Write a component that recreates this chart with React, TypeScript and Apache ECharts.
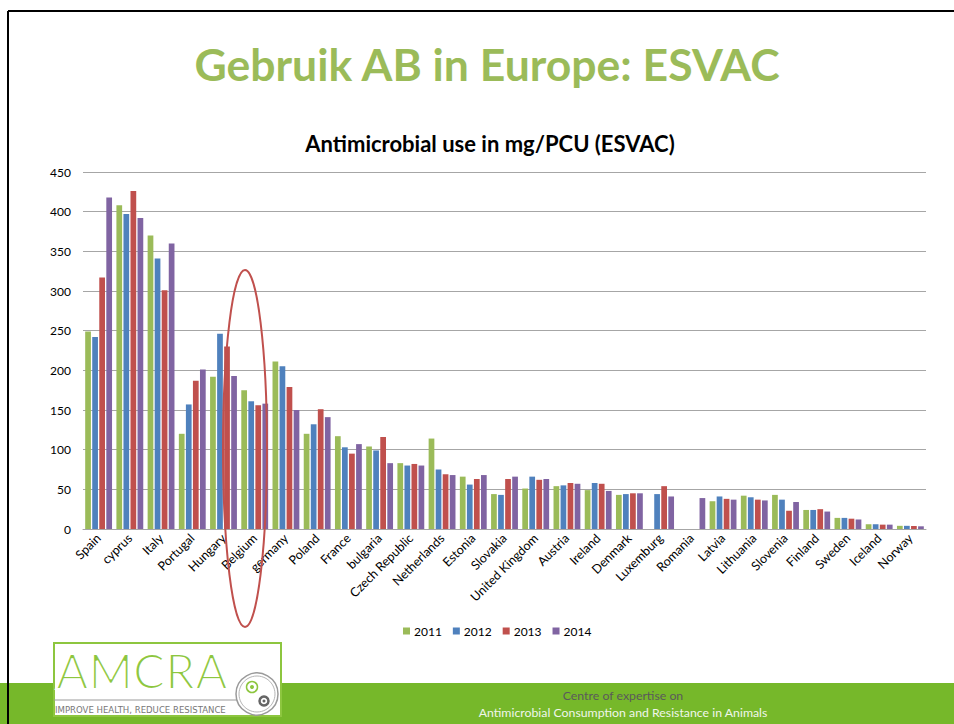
import React, { useEffect, useRef } from "react";
import * as echarts from "echarts";

const countries = [
  "Spain", "cyprus", "Italy", "Portugal", "Hungary", "Belgium", "germany", "Poland", "France",
  "bulgaria", "Czech Republic", "Netherlands", "Estonia", "Slovakia", "United Kingdom", "Austria",
  "Ireland", "Denmark", "Luxemburg", "Romania", "Latvia", "Lithuania", "Slovenia", "Finland",
  "Sweden", "Iceland", "Norway",
];
const years = ["2011", "2012", "2013", "2014"];
const v2011 = [249, 408, 370, 120, 192, 175, 211, 120, 117, 104, 83, 114, 66, 44, 51, 54, 49, 43, null, null, 35, 42, 43, 24, 14, 6, 4];
const v2012 = [242, 397, 341, 157, 246, 161, 205, 132, 103, 99, 80, 75, 56, 43, 66, 55, 58, 44, 44, null, 41, 40, 37, 24, 14, 6, 4];
const v2013 = [317, 426, 301, 187, 230, 156, 179, 151, 95, 116, 82, 69, 63, 63, 62, 58, 57, 45, 54, null, 38, 37, 23, 25, 13, 5.5, 3.8];
const v2014 = [418, 392, 360, 201, 193, 158, 150, 141, 107, 83, 80, 68, 68, 66, 63, 57, 48, 45, 41, 39, 37, 36, 34, 22, 12, 5.5, 3.4];
const seriesValues = [v2011, v2012, v2013, v2014];
const colors = ["#9BBB59", "#4F81BD", "#C0504D", "#8064A2"];
const yTicks = { min: 0, max: 450, interval: 50 };

const FONT = "Lato, 'Open Sans', sans-serif";

export default function App() {
  const ref = useRef<HTMLDivElement>(null);
  useEffect(() => {
    if (!ref.current) return;
    const chart = echarts.init(ref.current, null, { renderer: "svg" });
    const logoText = { text: "AMCRA", fontSize: 48, fontFamily: FONT, align: "left", verticalAlign: "middle" };
    chart.setOption({
      animation: false,
      backgroundColor: "#ffffff",
      color: colors,
      textStyle: { fontFamily: FONT },
      grid: { left: 83, right: 28, top: 172, bottom: 195, containLabel: false },
      legend: {
        data: years,
        left: 398,
        top: 620,
        icon: "rect",
        itemWidth: 7,
        itemHeight: 7,
        itemGap: 11,
        textStyle: { fontSize: 12, color: "#000", fontFamily: FONT, padding: [0, 0, 0, -1] },
      },
      xAxis: {
        type: "category",
        data: countries,
        axisLine: { lineStyle: { color: "#A6A6A6", width: 1 } },
        axisTick: { show: false },
        axisLabel: { rotate: 45, interval: 0, fontSize: 12.5, color: "#000", margin: 7, fontFamily: FONT },
      },
      yAxis: {
        type: "value",
        min: yTicks.min,
        max: yTicks.max,
        interval: yTicks.interval,
        axisLine: { show: false },
        axisTick: { show: false },
        splitLine: { lineStyle: { color: "#A6A6A6", width: 1 } },
        axisLabel: { fontSize: 12, color: "#000", margin: 12, fontFamily: FONT },
      },
      series: years.map((y, i) => ({
        name: y,
        type: "bar",
        data: seriesValues[i],
        barGap: "23%",
        barCategoryGap: "14%",
        itemStyle: { color: colors[i] },
      })),
      graphic: [
        { type: "line", shape: { x1: 8, y1: 11, x2: 954, y2: 11 }, style: { stroke: "#000", lineWidth: 2 }, z: 10 },
        {
          type: "text", x: 487, y: 63,
          style: { text: "Gebruik AB in Europe: ESVAC", fontSize: 44.5, fontWeight: "bold", fontFamily: FONT, fill: "#9BBB59", align: "center", verticalAlign: "middle" },
        },
        {
          type: "text", x: 490, y: 143,
          style: { text: "Antimicrobial use in mg/PCU (ESVAC)", fontSize: 22, fontWeight: "bold", fontFamily: FONT, fill: "#000", align: "center", verticalAlign: "middle" },
        },
        {
          type: "ellipse", shape: { cx: 245, cy: 448.5, rx: 22, ry: 178.5 },
          style: { fill: "none", stroke: "#C0504D", lineWidth: 2 }, z: 20,
        },
        { type: "rect", shape: { x: 0, y: 683, width: 954, height: 41 }, style: { fill: "#76B82A" }, z: 5 },
        {
          type: "text", x: 623, y: 695, z: 6,
          style: { text: "Centre of expertise on", fontSize: 12.3, fontFamily: FONT, fill: "#5A5A5A", align: "center", verticalAlign: "middle" },
        },
        {
          type: "text", x: 623, y: 712, z: 6,
          style: { text: "Antimicrobial Consumption and Resistance in Animals", fontSize: 12.3, fontFamily: FONT, fill: "#F0F6EA", align: "center", verticalAlign: "middle" },
        },
        { type: "line", shape: { x1: 8, y1: 11, x2: 8, y2: 724 }, style: { stroke: "#000", lineWidth: 2 }, z: 10 },
        // logo
        { type: "rect", shape: { x: 54, y: 643, width: 227, height: 73 }, style: { fill: "#fff", stroke: "#8DC63F", lineWidth: 2 }, z: 7 },
        { type: "text", x: 56, y: 670, z: 8, style: { ...logoText, fill: "#8DC63F" } },
        { type: "text", x: 56, y: 670, z: 9, style: { ...logoText, fill: "none", stroke: "#ffffff", lineWidth: 2.2 } },
        { type: "line", shape: { x1: 54, y1: 700, x2: 236, y2: 700 }, style: { stroke: "#9A9A9A", lineWidth: 1 }, z: 10 },
        {
          type: "text", x: 55, y: 709, z: 10,
          style: { text: "IMPROVE HEALTH, REDUCE RESISTANCE", fontSize: 9.5, fontFamily: "'DejaVu Sans Condensed', 'Liberation Sans Narrow', sans-serif", fill: "#777", align: "left", verticalAlign: "middle" },
        },
        { type: "circle", shape: { cx: 257, cy: 694, r: 21 }, style: { fill: "#fff", stroke: "#9A9A9A", lineWidth: 1.5 }, z: 10 },
        { type: "circle", shape: { cx: 257, cy: 694, r: 18 }, style: { fill: "none", stroke: "#B5B5B5", lineWidth: 1 }, z: 10 },
        { type: "circle", shape: { cx: 252, cy: 687, r: 5.5 }, style: { fill: "#fff", stroke: "#8DC63F", lineWidth: 1.5 }, z: 11 },
        { type: "circle", shape: { cx: 252, cy: 687, r: 2 }, style: { fill: "#8DC63F" }, z: 11 },
        { type: "circle", shape: { cx: 264, cy: 701, r: 4.5 }, style: { fill: "#fff", stroke: "#666", lineWidth: 2.5 }, z: 11 },
        { type: "circle", shape: { cx: 264, cy: 701, r: 1.5 }, style: { fill: "#666" }, z: 11 },
      ],
    });
    return () => chart.dispose();
  }, []);
  return (
    <div
      ref={ref}
      style={{ position: "fixed", left: 0, top: 0, width: 954, height: 724, background: "#fff" }}
    />
  );
}
